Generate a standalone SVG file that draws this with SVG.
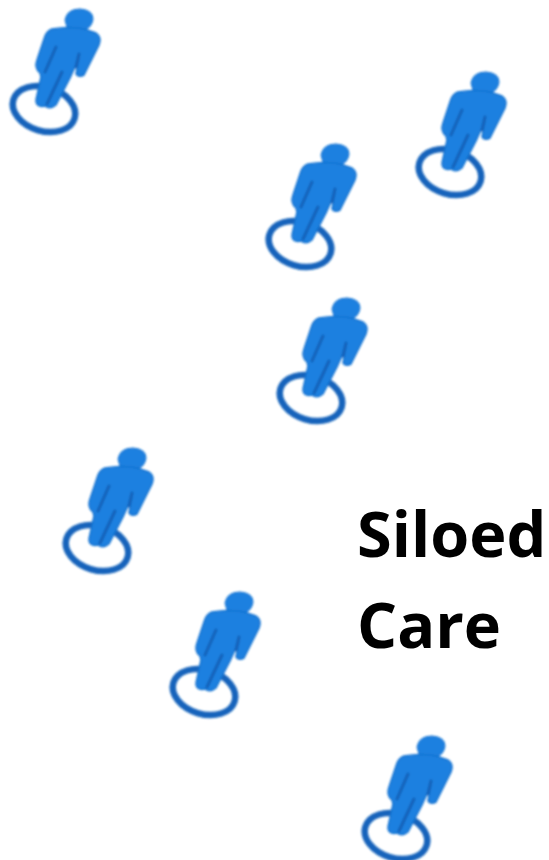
<svg xmlns="http://www.w3.org/2000/svg" width="549" height="860" viewBox="0 0 549 860">
<defs>
<style>
.ring{fill:none;stroke:#1664bb;stroke-width:6.5}
.body{fill:#1a80e0;stroke:#1872d0;stroke-width:1.5;stroke-linejoin:round}
.slit{fill:none;stroke:#1460b8;stroke-width:3;stroke-linecap:round}
.label{font-family:"Open Sans","Liberation Sans",sans-serif;font-weight:700;font-size:63px;fill:#000}
</style>
<filter id="soft" x="-10%" y="-10%" width="120%" height="120%"><feGaussianBlur stdDeviation="1.1"/></filter>
<g id="person" filter="url(#soft)">
<ellipse class="ring" cx="44" cy="109" rx="32" ry="22" transform="rotate(17 44 109)"/>
<path fill="#1a80e0" stroke="#1872d0" stroke-width="1" d="M65 20 Q67 9 80 9 Q93 10 93 19 Q92 27 84 31 L68 31Z"/>
<path class="body" d="M52 29 Q70 26 84 29 L96 33 Q102 37 99 45 L84 75 Q79 78 76 74 L79 58 L70 78 L56 105 Q50 110 45 106 Q36 108 36 100 L41 77 L40 73 Q34 68 37 60 L45 36 Q47 31 52 29Z"/>
<path class="slit" d="M56 47 L45 72 M62 72 L47 104 M79 54 L76 67"/>
</g>
</defs>
<g id="person-1"><use href="#person"/></g>
<g id="person-2"><use href="#person" x="406" y="63"/></g>
<g id="person-3"><use href="#person" x="256" y="135"/></g>
<g id="person-4"><use href="#person" x="267" y="289"/></g>
<g id="person-5"><use href="#person" x="53" y="439"/></g>
<g id="person-6"><use href="#person" x="160" y="583"/></g>
<g id="person-7"><use href="#person" x="352" y="727"/></g>
<g id="title">
<text class="label" x="357" y="557">Siloed</text>
<text class="label" x="357" y="648">Care</text>
</g>
</svg>
